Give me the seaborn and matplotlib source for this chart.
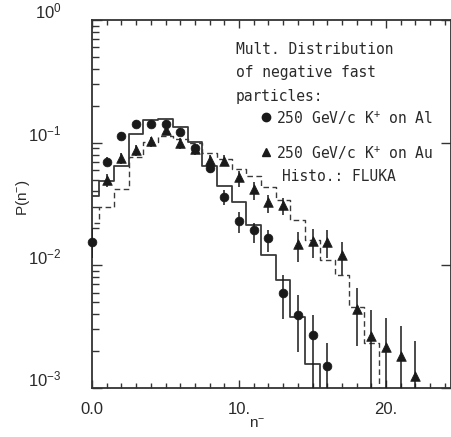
import numpy as np
import pandas as pd
import matplotlib
matplotlib.use("Agg")
import matplotlib.pyplot as plt
import seaborn as sns
from matplotlib.transforms import ScaledTranslation
from matplotlib.ticker import FixedLocator, LogLocator, NullFormatter

# ---------------- data ----------------
n_al = list(range(0, 17))
p_al = [0.0155, 0.070, 0.114, 0.142, 0.142, 0.142, 0.123, 0.090, 0.062,
        0.0363, 0.0231, 0.0194, 0.0168, 0.0060, 0.00394, 0.00271, 0.00151]
al_lo = [0.0115, 0.065, 0.106, 0.133, 0.133, 0.133, 0.114, 0.083, 0.057,
         0.0311, 0.0183, 0.0151, 0.0129, 0.00364, 0.00198, 0.0, 0.0]
al_hi = [0.0202, 0.076, 0.122, 0.152, 0.152, 0.152, 0.132, 0.097, 0.067,
         0.0411, 0.0274, 0.0220, 0.0194, 0.00835, 0.00574, 0.00394, 0.00232]

n_au = list(range(1, 23))
p_au = [0.0499, 0.0746, 0.0872, 0.1039, 0.128, 0.100, 0.088, 0.0723, 0.0713,
        0.0528, 0.0417, 0.0331, 0.0311, 0.0149, 0.0158, 0.0156, 0.0122,
        0.00439, 0.00267, 0.00217, 0.00183, 0.00126]
au_lo = [0.0434, 0.067, 0.078, 0.093, 0.118, 0.089, 0.080, 0.065, 0.064,
         0.0438, 0.0341, 0.0267, 0.0258, 0.01072, 0.01142, 0.01142, 0.00835,
         0.00222, 0.0, 0.0, 0.0, 0.0]
au_hi = [0.056, 0.082, 0.096, 0.112, 0.140, 0.109, 0.096, 0.080, 0.079,
         0.0586, 0.0481, 0.0375, 0.0354, 0.01883, 0.0198, 0.01944, 0.0156,
         0.0065, 0.00433, 0.00371, 0.00321, 0.00242]

fluka_al = [0.0368, 0.0488, 0.065, 0.117, 0.153, 0.156, 0.133, 0.102, 0.065,
            0.0446, 0.0331, 0.0213, 0.0122, 0.0076, 0.00378, 0.00156, 0.0]
fluka_au = [0.0220, 0.0301, 0.0417, 0.076, 0.102, 0.114, 0.108, 0.100, 0.083,
            0.073, 0.0607, 0.0535, 0.0435, 0.0341, 0.0234, 0.0161, 0.0111,
            0.00835, 0.00455, 0.00232, 0.0]

x_ticks = [0, 10, 20]
x_ticklabels = ["0.0", "10.", "20."]
y_ticks = [1e-3, 1e-2, 1e-1, 1e0]
y_ticklabels = [r"$10^{-3}$", r"$10^{-2}$", r"$10^{-1}$", r"$10^{0}$"]

legend_lines = ["Mult. Distribution", "of negative fast", "particles:"]
label_al = r"250 GeV/c K$^{+}$ on Al"
label_au = r"250 GeV/c K$^{+}$ on Au"
label_histo = "Histo.: FLUKA"

# ---------------- style ----------------
sns.set_style("ticks")
plt.rcParams["font.family"] = ["Liberation Sans", "DejaVu Sans"]
plt.rcParams["mathtext.default"] = "regular"

W, H = 451, 437
fig = plt.figure(figsize=(W / 100, H / 100), dpi=100)
x0, x1, ytop, ybot = 92, 450.5, 20, 388
ax = fig.add_axes([x0 / W, (H - ybot) / H, (x1 - x0) / W, (ybot - ytop) / H])

ink = "#1a1a1a"
hist_col = "#3a3a3a"

# FLUKA histograms
df_al = pd.DataFrame({"n": np.arange(len(fluka_al), dtype=float), "p": fluka_al})
df_au = pd.DataFrame({"n": np.arange(len(fluka_au), dtype=float), "p": fluka_au})
sns.histplot(data=df_al, x="n", weights="p", binwidth=1.0,
             binrange=(-0.5, len(fluka_al) - 0.5),
             element="step", fill=False, color=hist_col, linewidth=1.3, ax=ax)
sns.histplot(data=df_au, x="n", weights="p", binwidth=1.0,
             binrange=(-0.5, len(fluka_au) - 0.5),
             element="step", fill=False, color=hist_col, linewidth=1.0,
             linestyle=(0, (4, 2.5)), ax=ax)

ax.set_yscale("log")

# data points
p_al_a, p_au_a = np.array(p_al), np.array(p_au)
ax.errorbar(n_al, p_al_a, yerr=[p_al_a - np.array(al_lo), np.array(al_hi) - p_al_a],
            fmt="none", ecolor=ink, elinewidth=1.1, capsize=0, zorder=3)
ax.errorbar(n_au, p_au_a, yerr=[p_au_a - np.array(au_lo), np.array(au_hi) - p_au_a],
            fmt="none", ecolor=ink, elinewidth=1.1, capsize=0, zorder=3)
sns.scatterplot(x=n_au, y=p_au, marker="^", s=48, color=ink, edgecolor=ink,
                linewidth=0.5, ax=ax, zorder=4)
sns.scatterplot(x=n_al, y=p_al, marker="o", s=40, color=ink, edgecolor=ink,
                linewidth=0.5, ax=ax, zorder=5, clip_on=False)

ax.set_xlim(0, (x1 - x0) / 14.7)
ax.set_ylim(1e-3, 1.0)
ax.set_xlabel("")
ax.set_ylabel("")

# ticks
ax.xaxis.set_major_locator(FixedLocator(x_ticks))
ax.set_xticklabels(x_ticklabels)
ax.xaxis.set_minor_locator(FixedLocator(np.arange(0, 25, 1)))
ax.yaxis.set_major_locator(FixedLocator(y_ticks))
ax.set_yticklabels(y_ticklabels)
ax.yaxis.set_minor_locator(LogLocator(base=10, subs=np.arange(2, 10)))
ax.yaxis.set_minor_formatter(NullFormatter())
ax.tick_params(which="both", direction="in", top=True, right=True,
               color="#333333", width=1.0, labelsize=12, labelcolor="#2a2a2a")
ax.tick_params(axis="x", which="major", length=6, pad=10)
ax.tick_params(axis="x", which="minor", length=3.5)
ax.tick_params(axis="y", which="major", length=7, pad=22)
ax.tick_params(axis="y", which="minor", length=5, right=False)
for lab in ax.get_yticklabels():
    lab.set_transform(lab.get_transform() + ScaledTranslation(0, 7 / 72, fig.dpi_scale_trans))
for sp in ax.spines.values():
    sp.set_linewidth(1.3)
    sp.set_color("#333333")

# axis titles
fig.text(23 / W, 1 - 198 / H, r"P(n$^{-}$)", rotation=90, ha="center", va="center",
         fontsize=11, color="#2a2a2a")
fig.text(257 / W, 1 - 424 / H, r"n$^{-}$", ha="center", va="center",
         fontsize=11, color="#2a2a2a")

# annotation block
mono = {"family": ["DejaVu Sans Mono"], "fontsize": 10.5, "color": "#2a2a2a"}
for i, line in enumerate(legend_lines):
    fig.text(236 / W, 1 - (49 + 24 * i) / H, line, ha="left", va="center", **mono)
fig.text(276 / W, 1 - 118 / H, label_al, ha="left", va="center", **mono)
fig.text(276 / W, 1 - 153 / H, label_au, ha="left", va="center", **mono)
fig.text(282 / W, 1 - 177 / H, label_histo, ha="left", va="center", **mono)
ax.plot([266 / W], [1 - 116.5 / H], transform=fig.transFigure, marker="o", ms=6,
        color=ink, ls="none", clip_on=False)
ax.plot([266 / W], [1 - 151.5 / H], transform=fig.transFigure, marker="^", ms=6,
        color=ink, ls="none", clip_on=False)

fig.savefig("out.png", dpi=100)
